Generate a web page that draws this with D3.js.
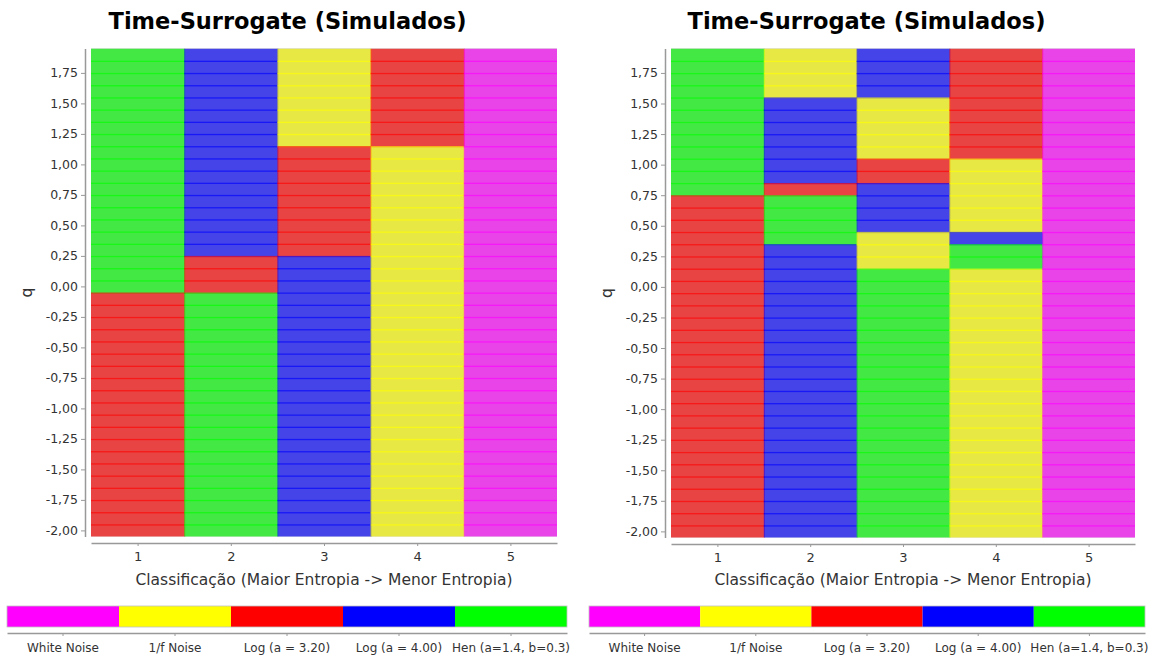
<!DOCTYPE html>
<html>
<head>
<meta charset="utf-8">
<script src="https://cdn.jsdelivr.net/npm/d3@7"></script>
<style>
  html, body { margin: 0; padding: 0; background: #ffffff; }
  svg { display: block; }
  .axis text { font-family: "DejaVu Sans", sans-serif; fill: #333; }
  .axis path, .axis line { stroke: #999; }
</style>
</head>
<body>
<svg id="chart" width="1159" height="657"></svg>
<script>
// Signal classes (legend order) and their colours
const classes = ["White Noise", "1/f Noise", "Log (a = 3.20)", "Log (a = 4.00)", "Hen (a=1.4, b=0.3)"];
const classColors = ["#ff00ff", "#ffff00", "#ff0000", "#0000ff", "#00ff00"];

// q levels of the grid (one row of cells per level)
const qLevels = [-2.0, -1.9, -1.8, -1.7, -1.6, -1.5, -1.4, -1.3, -1.2, -1.1,
                 -1.0, -0.9, -0.8, -0.7, -0.6, -0.5, -0.4, -0.3, -0.2, -0.1,
                  0.0,  0.1,  0.2,  0.3,  0.4,  0.5,  0.6,  0.7,  0.8,  0.9,
                  1.0,  1.1,  1.2,  1.3,  1.4,  1.5,  1.6,  1.7,  1.8,  1.9];
const qStep = 0.1;

// Ranks on the x axis and q ticks on the y axis
const ranks = [1, 2, 3, 4, 5];
const qTicks = [-2.0, -1.75, -1.5, -1.25, -1.0, -0.75, -0.5, -0.25, 0.0, 0.25, 0.5, 0.75, 1.0, 1.25, 1.5, 1.75];

// Classification per rank, as runs: [class index, lowest q, highest q]
const leftRank1 = [[4, 0.0, 1.9], [2, -2.0, -0.1]];
const leftRank2 = [[3, 0.3, 1.9], [2, 0.0, 0.2], [4, -2.0, -0.1]];
const leftRank3 = [[1, 1.2, 1.9], [2, 0.3, 1.1], [3, -2.0, 0.2]];
const leftRank4 = [[2, 1.2, 1.9], [1, -2.0, 1.1]];
const leftRank5 = [[0, -2.0, 1.9]];

const rightRank1 = [[4, 0.8, 1.9], [2, -2.0, 0.7]];
const rightRank2 = [[1, 1.6, 1.9], [3, 0.9, 1.5], [2, 0.8, 0.8], [4, 0.4, 0.7], [3, -2.0, 0.3]];
const rightRank3 = [[3, 1.6, 1.9], [1, 1.1, 1.5], [2, 0.9, 1.0], [3, 0.5, 0.8], [1, 0.2, 0.4], [4, -2.0, 0.1]];
const rightRank4 = [[2, 1.1, 1.9], [1, 0.5, 1.0], [3, 0.4, 0.4], [4, 0.2, 0.3], [1, -2.0, 0.1]];
const rightRank5 = [[0, -2.0, 1.9]];

const chartTitle = "Time-Surrogate (Simulados)";
const xTitle = "Classificação (Maior Entropia -> Menor Entropia)";
const yTitle = "q";

const svg = d3.select("#chart");
const FONT = '"DejaVu Sans", sans-serif';

// Expand the runs of one rank into individual cells
function cellsFor(rank, runs) {
  const out = [];
  runs.forEach(([cls, lo, hi]) => {
    qLevels.filter(q => q >= lo - 1e-9 && q <= hi + 1e-9)
      .forEach(q => out.push({ rank, q, cls }));
  });
  return out;
}

function drawPanel(ox, runsByRank, layout) {
  const g = svg.append("g").attr("transform", `translate(${ox},0)`);
  const { left, right, top, bottom, legL, legR, titleX } = layout;

  const x = d3.scaleLinear().domain([0.5, 5.5]).range([left, right]);
  const y = d3.scaleLinear().domain([-2.05, 1.95]).range([bottom, top]);

  // title
  g.append("text")
    .attr("x", titleX).attr("y", 29)
    .attr("text-anchor", "middle")
    .style("font-family", FONT).style("font-weight", "bold")
    .style("font-size", "22.5px").attr("fill", "#000")
    .text(chartTitle);

  // plot background + translucent cells (overlapping edges give the darker grid lines)
  const clipId = "clip" + ox;
  g.append("clipPath").attr("id", clipId)
    .append("rect").attr("x", left).attr("y", top)
    .attr("width", right - left).attr("height", bottom - top);

  g.append("rect").attr("x", left).attr("y", top)
    .attr("width", right - left).attr("height", bottom - top)
    .attr("fill", "#bebebe");

  const cells = runsByRank.flatMap((runs, i) => cellsFor(ranks[i], runs));
  const colW = x(1.5) - x(0.5);
  g.append("g").attr("clip-path", `url(#${clipId})`)
    .selectAll("rect").data(cells).join("rect")
    .attr("x", d => x(d.rank - 0.5))
    .attr("y", d => y(d.q + qStep / 2))
    .attr("width", colW + 1)
    .attr("height", d => y(d.q - qStep / 2) - y(d.q + qStep / 2) + 1.3)
    .attr("fill", d => classColors[d.cls])
    .attr("fill-opacity", 0.645);

  // y axis
  const yAxis = d3.axisLeft(y).tickValues(qTicks)
    .tickFormat(d => d.toFixed(2).replace(".", ","))
    .tickSize(4).tickSizeOuter(0).tickPadding(3);
  const ya = g.append("g").attr("class", "axis")
    .attr("transform", `translate(${left - 6},0)`).call(yAxis);
  ya.selectAll("text").style("font-size", "12.5px");
  ya.select(".domain").attr("stroke-width", 1.5);

  // x axis
  const xAxis = d3.axisBottom(x).tickValues(ranks).tickFormat(d3.format("d"))
    .tickSize(3).tickSizeOuter(0).tickPadding(6);
  const xa = g.append("g").attr("class", "axis")
    .attr("transform", `translate(0,${bottom + 6.5})`).call(xAxis);
  xa.selectAll("text").style("font-size", "13px");
  xa.select(".domain").attr("stroke-width", 1.5);

  // axis titles
  g.append("text")
    .attr("x", (left + right) / 2).attr("y", 585)
    .attr("text-anchor", "middle")
    .style("font-family", FONT).style("font-size", "15.5px").attr("fill", "#333")
    .text(xTitle);
  g.append("text")
    .attr("transform", `translate(32,${(top + bottom) / 2}) rotate(-90)`)
    .attr("text-anchor", "middle")
    .style("font-family", FONT).style("font-size", "15.5px").attr("fill", "#333")
    .text(yTitle);

  // colour legend
  const band = d3.scaleBand().domain(classes).range([legL, legR]);
  g.append("g").selectAll("rect").data(classes).join("rect")
    .attr("x", d => band(d)).attr("y", 606)
    .attr("width", band.bandwidth()).attr("height", 21)
    .attr("fill", (d, i) => classColors[i]);
  g.append("rect").attr("x", legL).attr("y", 606)
    .attr("width", legR - legL).attr("height", 21)
    .attr("fill", "none").attr("stroke", "#c0c0c0").attr("stroke-width", 0.8);

  const legAxis = d3.axisBottom(band).tickSize(3).tickSizeOuter(0).tickPadding(7);
  const la = g.append("g").attr("class", "axis")
    .attr("transform", `translate(0,633)`).call(legAxis);
  la.selectAll("text").style("font-size", "12px");
  la.select(".domain").attr("stroke-width", 1.5);
}

drawPanel(0, [leftRank1, leftRank2, leftRank3, leftRank4, leftRank5],
  { left: 91, right: 557, top: 48.5, bottom: 536.5, legL: 7, legR: 567, titleX: 287.5 });
drawPanel(580, [rightRank1, rightRank2, rightRank3, rightRank4, rightRank5],
  { left: 91, right: 555, top: 48.5, bottom: 537.5, legL: 9, legR: 565, titleX: 286.5 });
</script>
</body>
</html>
